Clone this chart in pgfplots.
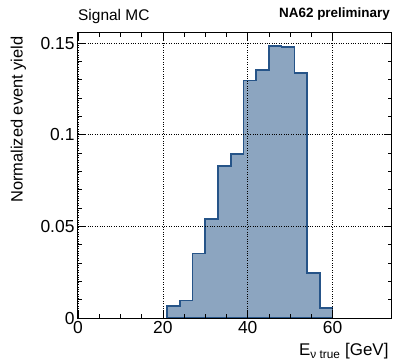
\documentclass[border=0pt]{standalone}
\usepackage{pgfplots}
\pgfplotsset{compat=1.18}
\usepackage{fontspec}
\setmainfont{Liberation Sans}
\definecolor{histfill}{RGB}{140,165,192}
\definecolor{histline}{RGB}{38,84,136}
\begin{document}
\begin{tikzpicture}
\begin{axis}[
  name=main,
  at={(0,0)}, anchor=south west,
  scale only axis,
  width=314bp, height=285bp,
  xmin=0, xmax=74, ymin=0, ymax=0.1555,
  xtick={0,20,40,60}, minor x tick num=3,
  ytick={0,0.05,0.1,0.15}, minor y tick num=4,
  tick align=inside, tick pos=both,
  major tick length=8bp, minor tick length=4bp,
  every tick/.style={black, line width=0.6bp},
  grid=major,
  major grid style={black, dotted, line width=0.6bp},
  axis line style={black, line width=1bp},
  axis on top=true,
  scaled y ticks=false,
  /pgf/number format/assume math mode=true,
  yticklabel style={/pgf/number format/fixed, /pgf/number format/precision=2, font=\fontsize{17.5}{20}\selectfont},
  xticklabel style={font=\fontsize{17.5}{20}\selectfont},
  xlabel={E\textsubscript{ν true} [GeV]},
  xlabel style={at={(axis description cs:1,0)}, anchor=north east, yshift=-22bp, font=\fontsize{17}{20}\selectfont},
  ylabel={Normalized event yield},
  ylabel style={at={(axis description cs:-0.19,1)}, anchor=east, font=\fontsize{16.5}{20}\selectfont},
]
\addplot[const plot, fill=histfill, draw=histline, line width=1.6bp] coordinates {
(21,0.0064) (24,0.0095) (27,0.0351) (30,0.0540) (33,0.0829) (36,0.0895)
(39,0.1296) (42,0.1353) (45,0.1484) (48,0.1478) (51,0.1338) (54,0.0244)
(57,0.0055) (60,0.0055)} \closedcycle;
\end{axis}
\node[anchor=base west, font=\fontsize{15.5}{18}\selectfont, inner sep=0pt] at (0bp,297bp) {Signal MC};
\node[anchor=base east, font=\bfseries\fontsize{13.5}{16}\selectfont, inner sep=0pt] at (312bp,300bp) {NA62 preliminary};
\pgfresetboundingbox
\path (-78bp,-46bp) rectangle (319bp,318bp);
\end{tikzpicture}
\end{document}
